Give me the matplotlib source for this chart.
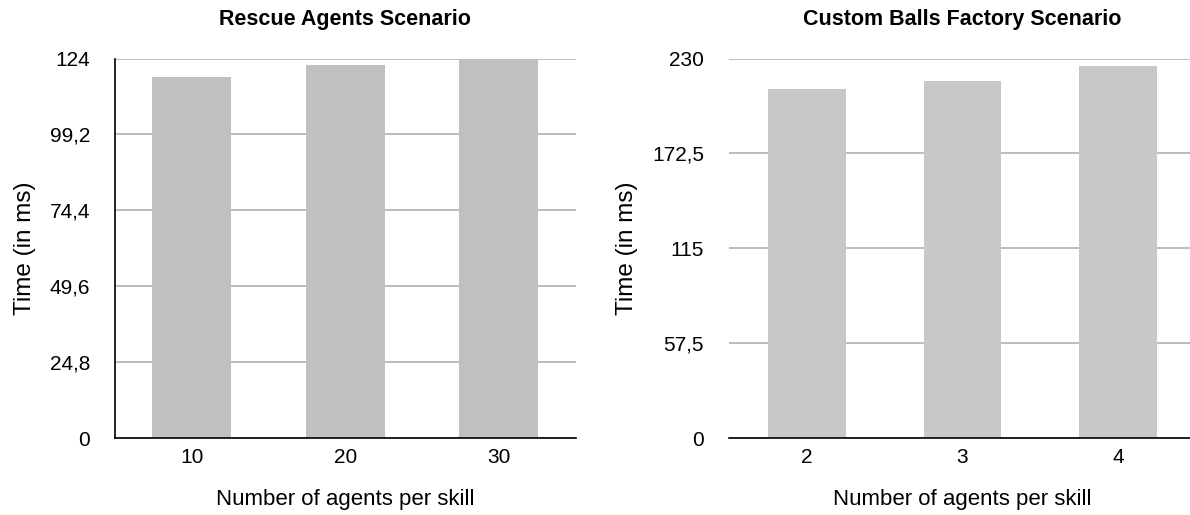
import numpy as np
import matplotlib
matplotlib.use("Agg")
import matplotlib.pyplot as plt

plt.rcParams['font.family'] = ['Liberation Sans', 'DejaVu Sans']

# Rescue agents scenario
rescue_agents = ["10", "20", "30"]
rescue_times = [118.0, 122.0, 124.0]
rescue_ticks = [0, 24.8, 49.6, 74.4, 99.2, 124]
rescue_ticklabels = ["0", "24,8", "49,6", "74,4", "99,2", "124"]

# Custom balls factory scenario
factory_agents = ["2", "3", "4"]
factory_times = [211.5, 216.5, 225.5]
factory_ticks = [0, 57.5, 115, 172.5, 230]
factory_ticklabels = ["0", "57,5", "115", "172,5", "230"]

fig = plt.figure(figsize=(11.90, 5.15), dpi=100)


def draw(ax, cats, vals, ticks, ticklabels, title, color, width, left_spine):
    x = np.arange(len(cats))
    ax.bar(x, vals, width=width, color=color, zorder=2)
    ax.set_xlim(-0.5, len(cats) - 0.5)
    ax.set_ylim(0, ticks[-1])
    ax.set_yticks(ticks)
    ax.set_yticklabels(ticklabels)
    ax.set_xticks(x)
    ax.set_xticklabels(cats)
    ax.yaxis.grid(True, color="#ababab", linewidth=1.1, zorder=1)
    ax.set_axisbelow(True)
    for s in ["top", "right"]:
        ax.spines[s].set_visible(False)
    ax.spines["left"].set_visible(left_spine)
    ax.spines["left"].set_linewidth(1.2)
    ax.spines["bottom"].set_linewidth(1.2)
    ax.spines["bottom"].set_zorder(3)
    ax.tick_params(axis="y", length=0, pad=18, labelsize=15)
    ax.tick_params(axis="x", length=0, pad=7, labelsize=15)
    ax.set_xlabel("Number of agents per skill", fontsize=16, labelpad=16)
    ax.set_ylabel("Time (in ms)", fontsize=17.5, labelpad=10)
    ax.set_title(title, fontsize=15.5, fontweight="bold", pad=24)


ax1 = fig.add_axes([115 / 1190, 1 - 438 / 515, 460.5 / 1190, 379.5 / 515])
draw(ax1, rescue_agents, rescue_times, rescue_ticks, rescue_ticklabels,
     "Rescue Agents Scenario", "#c0c0c3", 0.515, True)

ax2 = fig.add_axes([729 / 1190, 1 - 438 / 515, 467 / 1190, 379.5 / 515])
draw(ax2, factory_agents, factory_times, factory_ticks, factory_ticklabels,
     "Custom Balls Factory Scenario", "#c8c8c8", 0.5, False)

fig.savefig("out.png", dpi=100)
